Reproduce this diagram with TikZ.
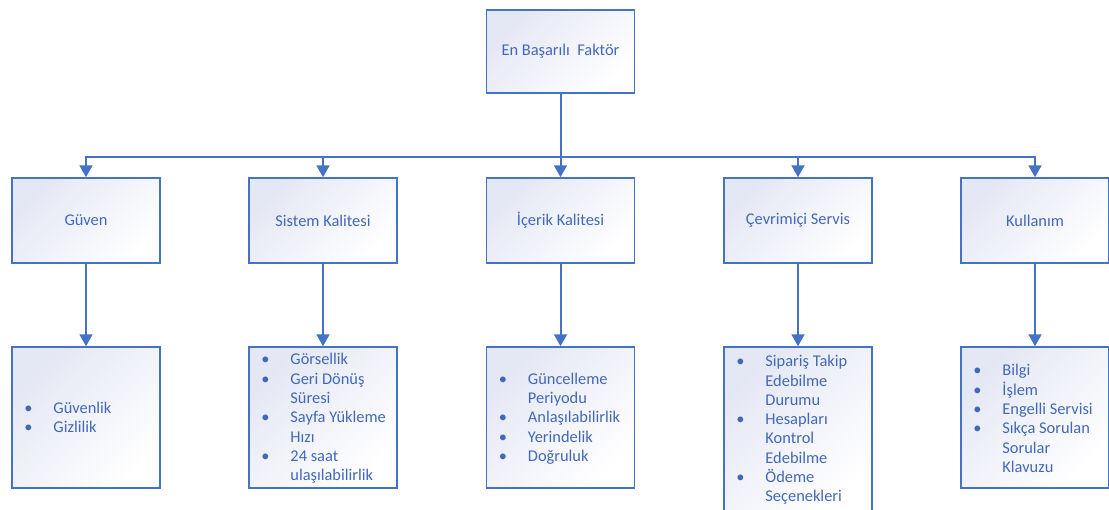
\documentclass[tikz,border=0pt]{standalone}
\usepackage{fontspec}
\setmainfont{Carlito}
\usetikzlibrary{arrows.meta}
\definecolor{lc}{HTML}{4472C4}
\definecolor{tc}{HTML}{4268B8}
\definecolor{lav}{HTML}{E4E7F4}
\newcommand{\bul}{\llap{\makebox[34pt][l]{\hspace{5pt}\textbullet}}}
\tikzset{
  box/.style={draw=lc, line width=1.5pt, top color=lav, bottom color=white, shading angle=45,
    minimum width=148pt, inner sep=0pt, text=tc, font=\fontsize{16.4}{19.3}\selectfont},
  lvltwo/.style={box, minimum height=85pt},
  lvlthree/.style={box, minimum height=141pt},
  items/.style={anchor=west, align=left, inner sep=0pt, text=tc, font=\fontsize{16.4}{19.3}\selectfont},
  conn/.style={draw=lc, line width=2pt},
  arr/.style={conn, -{Triangle[width=13pt,length=12pt]}}
}
\begin{document}
\begin{tikzpicture}[x=1pt,y=-1pt]
\useasboundingbox (0,0) rectangle (1109,509);
% top
\node[box, minimum height=83pt] (top) at (560.5,51.5) {En Başarılı\ \ Faktör};
% level 2
\node[lvltwo] (guven) at (86,220.5) {Güven};
\node[lvltwo] (sistem) at (323,220.5) {Sistem Kalitesi};
\node[lvltwo] (icerik) at (560.5,220.5) {İçerik Kalitesi};
\node[lvltwo] (cevrim) at (798,220.5) {Çevrimiçi Servis};
\node[lvltwo] (kullan) at (1035,220.5) {Kullanım};
% level 3
\node[lvlthree] (guvenb) at (86,417.5) {};
\node[lvlthree] (sistemb) at (323,417.5) {};
\node[lvlthree] (icerikb) at (560.5,417.5) {};
\node[box, minimum height=166pt] (cevrimb) at (798,430) {};
\node[lvlthree] (kullanb) at (1035,417.5) {};
% texts
\node[items] (t1) at ([xshift=42pt]guvenb.west) {\bul Güvenlik\\\bul Gizlilik};
\node[items] (t2) at ([xshift=42pt,yshift=-1pt]sistemb.west) {\bul Görsellik\\\bul Geri Dönüş\\Süresi\\\bul Sayfa Yükleme\\Hızı\\\bul 24 saat\\ulaşılabilirlik};
\node[items] (t3) at ([xshift=42pt,yshift=-1pt]icerikb.west) {\bul Güncelleme\\Periyodu\\\bul Anlaşılabilirlik\\\bul Yerindelik\\\bul Doğruluk};
\node[items] (t4) at ([xshift=42pt]cevrimb.west) {\bul Sipariş Takip\\Edebilme\\Durumu\\\bul Hesapları\\Kontrol\\Edebilme\\\bul Ödeme\\Seçenekleri};
\node[items] (t5) at ([xshift=42pt,yshift=-1pt]kullanb.west) {\bul Bilgi\\\bul İşlem\\\bul Engelli Servisi\\\bul Sıkça Sorulan\\Sorular\\Klavuzu};
% connectors
\coordinate (bus) at (560.5,157);
\draw[arr] (top.south) -- (icerik.north);
\draw[arr] (bus) -| (guven.north);
\draw[arr] (bus) -| (sistem.north);
\draw[arr] (bus) -| (cevrim.north);
\draw[arr] (bus) -| (kullan.north);
\draw[arr] (guven.south) -- (guvenb.north);
\draw[arr] (sistem.south) -- (sistemb.north);
\draw[arr] (icerik.south) -- (icerikb.north);
\draw[arr] (cevrim.south) -- (cevrimb.north);
\draw[arr] (kullan.south) -- (kullanb.north);
\end{tikzpicture}
\end{document}
